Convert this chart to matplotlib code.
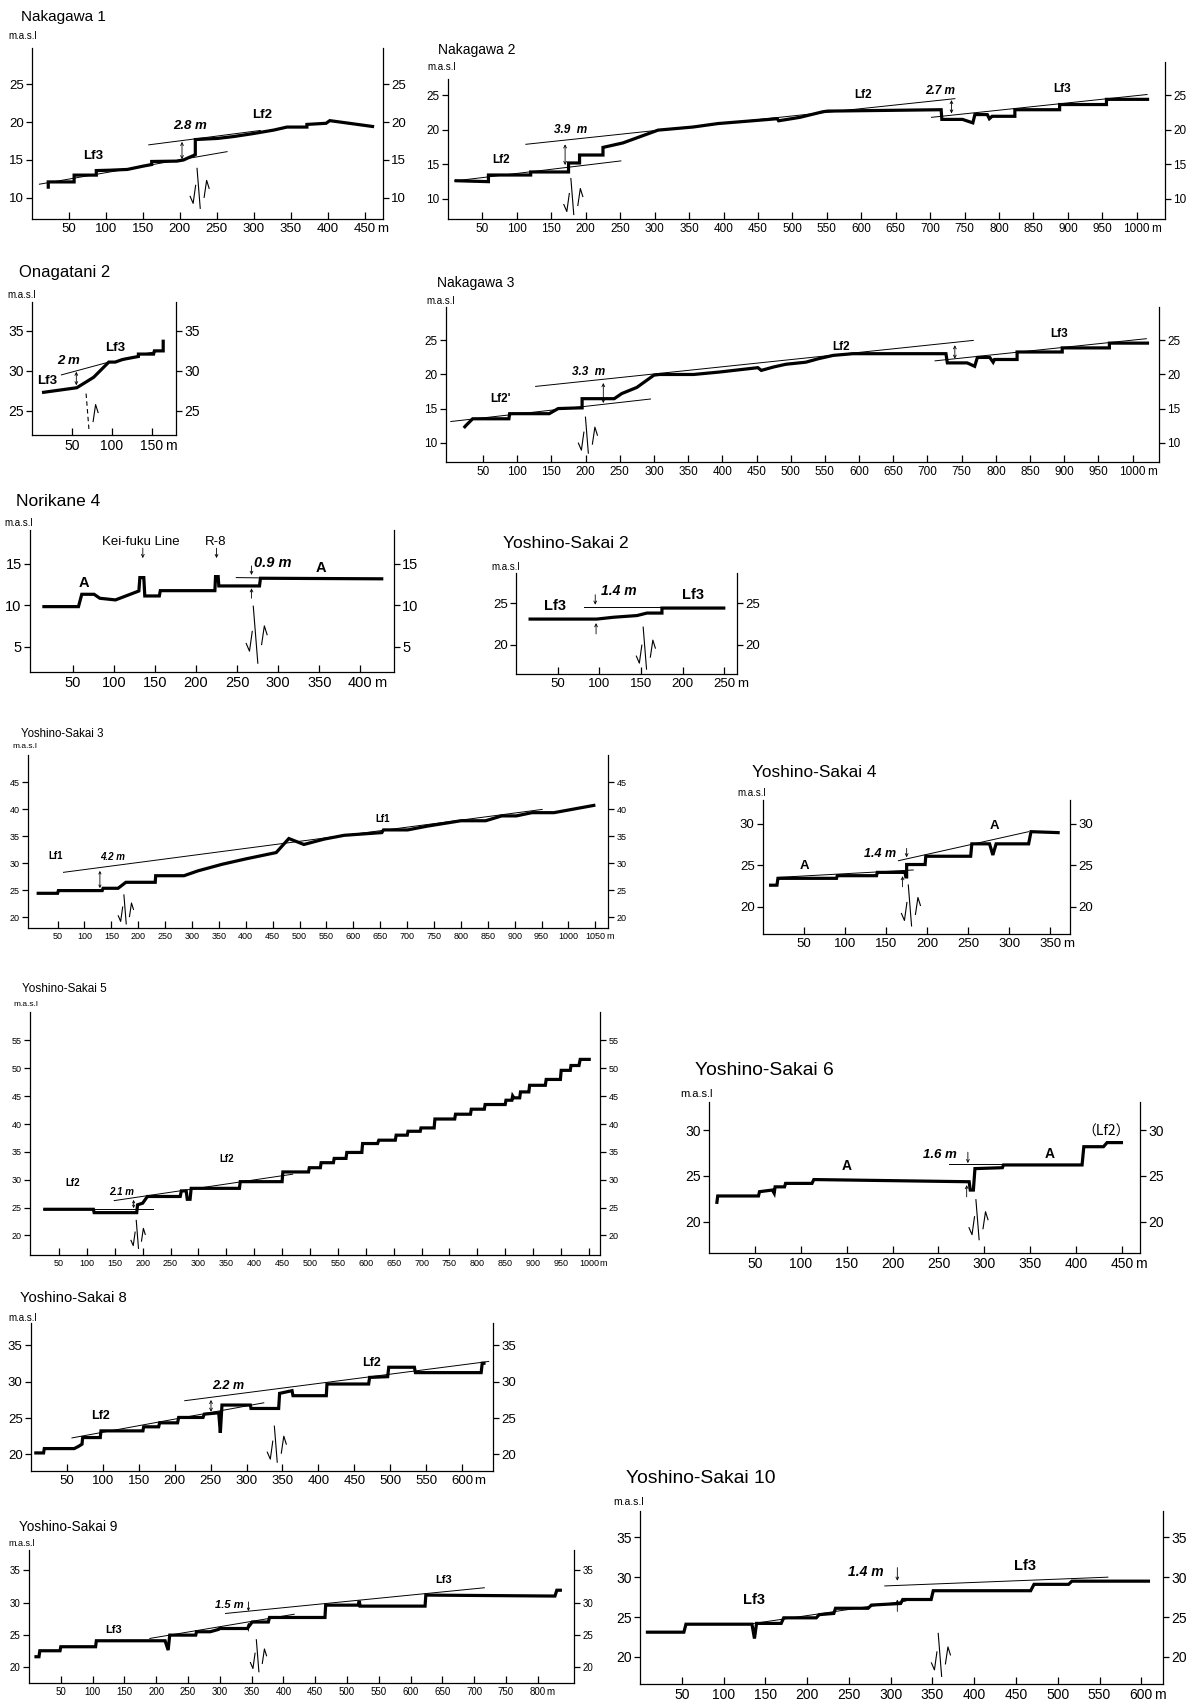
import matplotlib
matplotlib.use("Agg")
import matplotlib.pyplot as plt
from matplotlib.transforms import ScaledTranslation

plt.rcParams['font.family'] = ['Liberation Sans', 'DejaVu Sans']
plt.rcParams['axes.linewidth'] = 0.9

W, H = 1199, 1701

# ---------------- profile data (distance m, elevation m.a.s.l) ----------------
n1_x = [22, 22, 57, 57, 87, 87, 106, 129, 151, 162, 162, 196, 205, 214, 219, 221, 221, 251, 273, 300, 327, 345, 372, 372, 398, 403, 463]
n1_y = [11.2, 12.1, 12.1, 13.0, 13.0, 13.6, 13.65, 13.75, 14.2, 14.4, 14.8, 14.85, 15.0, 15.4, 15.6, 15.7, 17.7, 17.85, 18.1, 18.5, 18.95, 19.35, 19.35, 19.7, 19.85, 20.2, 19.4]
n1_lf2 = ([158, 309], [17.0, 18.9])
n1_lf3 = ([10, 264], [11.8, 16.1])

n2_x = [9.5, 58.7, 58.7, 120, 120, 175, 175, 191, 191, 225, 225, 254, 276, 305, 356, 392, 442, 478, 480, 511, 544, 551,
        716, 717, 747, 762, 765, 783, 786, 790, 823, 823, 888, 888, 956, 956, 1018]
n2_y = [12.64, 12.5, 13.46, 13.46, 13.9, 13.9, 15.2, 15.2, 16.35, 16.35, 17.45, 18.1, 18.9, 19.95, 20.4, 20.9, 21.3, 21.6, 21.3, 21.8, 22.6, 22.7,
        22.9, 21.5, 21.5, 21.0, 22.2, 22.2, 21.6, 21.95, 21.95, 22.9, 22.9, 23.65, 23.65, 24.4, 24.4]
n2_up = ([113, 736], [17.9, 24.5])
n2_low = ([9.5, 251], [12.6, 15.5])
n2_lf3 = ([702, 1015], [21.8, 25.1])

og_x = [12.5, 56, 77, 96, 104, 112.5, 117, 133, 133, 152, 153, 164, 164]
og_y = [27.3, 27.9, 29.2, 31.1, 31.1, 31.4, 31.5, 31.8, 32.1, 32.1, 32.5, 32.5, 33.9]
og_line = ([36.7, 96], [29.5, 31.1])
og_line2 = ([133, 155], [32.0, 32.4])

n3_x = [22, 25, 35, 88, 89, 147, 160, 191, 195, 195, 242, 253, 275, 300, 308, 358, 395, 452, 457, 475,
        493, 522, 540, 562, 591, 727, 729, 758, 769, 773, 791, 796, 798, 831, 831, 897, 897, 966, 966, 1024]
n3_y = [12.15, 12.5, 13.5, 13.5, 14.25, 14.25, 15.0, 15.1, 15.1, 16.45, 16.45, 17.2, 18.1, 19.9, 20.0, 20.0, 20.35, 21.0, 20.6, 21.1,
        21.5, 21.8, 22.3, 22.8, 23.05, 23.05, 21.7, 21.7, 21.2, 22.5, 22.5, 21.8, 22.2, 22.2, 23.3, 23.3, 23.9, 23.9, 24.6, 24.6]
n3_up = ([127, 767], [18.25, 25.0])
n3_low = ([3, 295], [13.1, 16.4])
n3_lf3 = ([711, 1020], [22.0, 25.25])

nk_x = [13, 57, 61, 76, 83, 102, 130.5, 131.7, 136.5, 137.7, 155.4, 156.6, 223, 223.8, 227, 227.8, 277.3, 278.5, 428]
nk_y = [9.84, 9.84, 11.33, 11.33, 10.85, 10.65, 11.73, 13.35, 13.35, 11.13, 11.13, 11.77, 11.77, 13.47, 13.47, 12.34, 12.34, 13.27, 13.2]
nk_line = ([249, 290], [13.35, 13.3])

y2_x = [15, 97, 117, 145, 157, 167, 175, 175, 251]
y2_y = [23.08, 23.08, 23.3, 23.5, 23.8, 23.8, 23.8, 24.4, 24.4]
y2_line = ([82, 175], [24.5, 24.5])

y3_x = [11, 50, 51.5, 133, 134.6, 162.5, 177, 231.6, 232.4, 285, 311, 355, 399, 456.6, 480, 508, 546, 583, 653, 656,
        701, 737.5, 800, 846, 876, 903, 932, 973, 1050]
y3_y = [24.44, 24.44, 24.94, 24.94, 25.37, 25.37, 26.48, 26.48, 27.7, 27.7, 28.6, 29.8, 30.8, 32.0, 34.6, 33.5, 34.5, 35.2, 35.7, 36.2,
        36.2, 36.9, 37.9, 37.9, 38.8, 38.8, 39.4, 39.4, 40.8]
y3_lf1 = ([61, 951], [28.33, 40.0])

y4_x = [7.3, 17, 18.2, 89.6, 90.5, 138.3, 139.2, 173, 174, 175, 175, 197.5, 198.3, 253, 254.4, 276, 280, 284, 323.6, 326.5, 361.5]
y4_y = [22.6, 22.6, 23.43, 23.43, 23.75, 23.75, 24.15, 24.15, 23.6, 23.6, 25.1, 25.1, 26.1, 26.1, 27.6, 27.6, 26.25, 27.6, 27.6, 29.07, 28.95]
y4_low = ([19.5, 183], [23.55, 24.44])
y4_up = ([165, 323.6], [25.56, 29.07])

y5_x = [21.7, 111.7, 113, 189.4, 190.8, 200, 208.5, 267.3, 269.4, 278, 280, 285, 287, 373.5, 375, 450, 451.4, 497.4, 498.8, 518.6,
        520, 542, 543.4, 564.6, 566, 593, 594.3, 621.2, 623.4, 653, 654.5, 674.4, 675.8, 697.7, 699, 722.6, 724, 759.5, 760.9, 787.8,
        789.2, 812.6, 814, 850, 851.4, 862, 863.4, 865.6, 876, 877.5, 892.4, 893.8, 922, 923.5, 949, 950.4, 966.7, 968, 982.3, 984.5, 1003.5]
y5_y = [24.7, 24.7, 24.1, 24.1, 25.5, 25.8, 27.0, 27.0, 28.0, 28.0, 26.5, 26.5, 28.46, 28.46, 29.66, 29.66, 31.4, 31.4, 32.16, 32.16,
        33.06, 33.06, 33.83, 33.83, 34.9, 34.9, 36.5, 36.5, 37.1, 37.1, 38.0, 38.0, 38.7, 38.7, 39.3, 39.3, 40.9, 40.9, 41.76, 41.76,
        42.66, 42.66, 43.5, 43.5, 44.27, 44.27, 45.04, 44.7, 44.7, 45.76, 45.76, 46.95, 46.95, 48.0, 48.0, 49.63, 49.63, 50.5, 50.5, 51.6, 51.6]
y5_low = ([21.7, 217.8], [24.8, 24.8])
y5_up = ([149, 469], [26.26, 31.0])

y6_x = [8.4, 9.5, 53.9, 55, 69, 71, 72, 82.3, 83.4, 112.2, 114.2, 283.4, 284.6, 288, 289.7, 319.6, 320.8, 406.4, 408.3, 429.7, 433.6, 451]
y6_y = [21.93, 22.8, 22.8, 23.27, 23.45, 23.1, 23.8, 23.8, 24.18, 24.18, 24.6, 24.36, 23.45, 23.45, 25.8, 25.9, 26.2, 26.2, 28.2, 28.2, 28.65, 28.65]
y6_line = ([261, 319.6], [26.3, 26.3])

y8_x = [4.5, 17.5, 18.5, 60.2, 66.2, 71, 71.9, 96.4, 97.4, 155.8, 156.8, 177.7, 179, 204, 205.5, 239.4, 241.2, 261.3, 263.5, 265.8,
        305.3, 306.2, 344.7, 346, 363.3, 364.6, 411, 411.9, 469.9, 471.3, 496.4, 497.9, 533.6, 535, 626.5, 628, 632.6]
y8_y = [20.19, 20.19, 20.79, 20.79, 21.1, 21.4, 22.31, 22.31, 23.23, 23.23, 23.79, 23.79, 24.34, 24.34, 25.08, 25.08, 25.54, 25.72, 22.96, 26.79,
        26.79, 26.32, 26.32, 28.4, 28.77, 28.08, 28.08, 29.69, 29.69, 30.6, 30.7, 32.0, 32.0, 31.26, 31.26, 32.55, 32.55]
y8_low = ([57, 324], [22.26, 27.1])
y8_up = ([214, 637], [27.39, 32.8])

y9_x = [8.5, 15.7, 17, 48.8, 50, 104.7, 105.9, 214, 218.8, 221.3, 262.2, 263.4, 285, 298, 299.4, 343.3, 351, 376.4, 378.2, 465.4,
        466.5, 517.6, 519.4, 520.6, 622.8, 624, 827, 830, 838]
y9_y = [21.65, 21.65, 22.57, 22.57, 23.19, 23.19, 24.11, 24.11, 22.67, 24.98, 24.98, 25.5, 25.5, 25.86, 26.0, 26.0, 27.0, 27.0, 27.7, 27.7,
        29.6, 29.6, 30.27, 29.45, 29.45, 31.15, 31.0, 31.9, 31.9]
y9_low = ([190, 417], [24.47, 28.2])
y9_up = ([309, 716], [28.32, 32.28])

y10_x = [7, 52.5, 55, 134, 137, 139.5, 169, 172, 211, 214.5, 232, 234, 273, 277, 312, 314.5, 348.5, 351, 467.6, 471.6, 513, 517, 610.5]
y10_y = [23.1, 23.1, 24.1, 24.1, 22.3, 24.2, 24.2, 24.9, 24.9, 25.3, 25.45, 26.1, 26.1, 26.5, 26.7, 27.2, 27.2, 28.3, 28.3, 29.1, 29.1, 29.5, 29.5]
y10_low = ([130, 318], [24.1, 27.0])
y10_up = ([293, 560], [28.9, 30.0])

fig = plt.figure(figsize=(W / 100, H / 100), dpi=100)
unit_labels = []


def panel(rect, xlim, ylim, xmax, yticks, fs, left_top=None):
    L, T, R, B = rect
    ax = fig.add_axes([L / W, 1 - B / H, (R - L) / W, (B - T) / H])
    ax.set_xlim(*xlim)
    ax.set_ylim(*ylim)
    ax.spines['top'].set_visible(False)
    if left_top is not None:
        ax.spines['left'].set_bounds(ylim[0], left_top)
    xt = list(range(50, xmax + 1, 50))
    ax.set_xticks(xt)
    ax.set_xticklabels([str(v) for v in xt])
    ax.tick_params(axis='x', direction='in', length=5, width=0.9, labelsize=fs, pad=3)
    ax.set_yticks(yticks)
    ax.tick_params(axis='y', direction='out', left=True, right=True, labelleft=True,
                   labelright=True, length=4, width=0.9, labelsize=fs, pad=2)
    unit_labels.append((ax, fs))
    return ax


def title(x, y, s, fs, masl_xy, masl_fs=7):
    fig.text(x / W, 1 - y / H, s, fontsize=fs, ha='left', va='center')
    fig.text(masl_xy[0] / W, 1 - masl_xy[1] / H, 'm.a.s.l', fontsize=masl_fs, ha='left', va='center')


def prof(ax, x, y):
    ax.plot(x, y, color='black', lw=2.3, solid_joinstyle='miter', solid_capstyle='butt')


def thin(ax, line):
    ax.plot(line[0], line[1], color='black', lw=0.7)


def fault(ax, x, y, h, s=1.0, dashed=False, down=True):
    tr = fig.dpi_scale_trans + ScaledTranslation(x, y, ax.transData)
    p = 0.01
    kw = dict(color='black', lw=0.8, transform=tr, clip_on=False)
    ax.plot([-0.08 * h * p, 0.08 * h * p], [h * p, -h * p], ls=(0, (4, 3)) if dashed else '-', **kw)
    if down:
        ax.plot([-3 * s * p, -5.5 * s * p, -8.5 * s * p], [3 * s * p, -15 * s * p, -8 * s * p], **kw)
    ax.plot([5.5 * s * p, 8 * s * p, 10.5 * s * p], [-9 * s * p, 8 * s * p, 0], **kw)


def arrow(ax, x, y1, y2, style='->', ms=5):
    ax.annotate('', xy=(x, y2), xytext=(x, y1),
                arrowprops=dict(arrowstyle=style, color='black', lw=0.6,
                                shrinkA=0, shrinkB=0, mutation_scale=ms))


def label(ax, x, y, s, fs, style='b', **kw):
    d = dict(fontsize=fs, ha='center', va='center')
    if 'b' in style:
        d['fontweight'] = 'bold'
    if 'i' in style:
        d['fontstyle'] = 'italic'
    d.update(kw)
    ax.text(x, y, s, **d)


# Nakagawa 1
ax = panel((32, 48, 383, 219), (0, 475), (7.2, 29.8), 450, [10, 15, 20, 25], 9.5)
title(21, 17, 'Nakagawa 1', 11, (8, 36))
prof(ax, n1_x, n1_y)
thin(ax, n1_lf2); thin(ax, n1_lf3)
arrow(ax, 203, 17.4, 15.1, '<->')
label(ax, 214, 19.5, '2.8 m', 9.5, 'bi')
label(ax, 311, 20.9, 'Lf2', 9.5)
label(ax, 83, 15.5, 'Lf3', 9.5)
fault(ax, 225.5, 11.25, 20)

# Nakagawa 2
ax = panel((448, 62, 1165, 219), (0, 1041), (7.1, 29.8), 1000, [10, 15, 20, 25], 8.5, left_top=27.4)
title(438, 50, 'Nakagawa 2', 10, (427, 67))
prof(ax, n2_x, n2_y)
thin(ax, n2_up); thin(ax, n2_low); thin(ax, n2_lf3)
arrow(ax, 170, 17.9, 14.9, '<->')
arrow(ax, 731, 24.3, 22.35, '<->')
label(ax, 178, 20.0, '3.9  m', 8.5, 'bi')
label(ax, 714, 25.6, '2.7 m', 8.5, 'bi')
label(ax, 77, 15.6, 'Lf2', 8.5)
label(ax, 602, 25.0, 'Lf2', 8.5)
label(ax, 891, 25.9, 'Lf3', 8.5)
fault(ax, 180.5, 10.35, 18)

# Onagatani 2
ax = panel((32, 302, 176, 435), (0, 180), (22, 38.6), 150, [25, 30, 35], 10)
title(19, 272, 'Onagatani 2', 12, (7, 295))
prof(ax, og_x, og_y)
thin(ax, og_line); thin(ax, og_line2)
arrow(ax, 55.4, 29.9, 28.2, '<->')
label(ax, 46, 31.25, '2 m', 9.5, 'bi')
label(ax, 104, 32.8, 'Lf3', 9.5)
label(ax, 19, 28.7, 'Lf3', 9.5)
fault(ax, 69.5, 24.8, 19, dashed=True, down=False)

# Nakagawa 3
ax = panel((446, 307, 1159, 462), (-4, 1038.5), (7.16, 29.9), 1000, [10, 15, 20, 25], 8.5)
title(437, 283, 'Nakagawa 3', 10, (426, 301))
prof(ax, n3_x, n3_y)
thin(ax, n3_up); thin(ax, n3_low); thin(ax, n3_lf3)
arrow(ax, 226, 18.75, 15.8, '<->')
arrow(ax, 740, 24.3, 22.3, '<->')
label(ax, 204, 20.4, '3.3  m', 8.5, 'bi')
label(ax, 573, 24.0, 'Lf2', 8.5)
label(ax, 893, 26.0, 'Lf3', 8.5)
label(ax, 75, 16.45, "Lf2'", 8.5)
fault(ax, 202, 11.1, 18)

# Norikane 4
ax = panel((30, 530, 394, 672), (-2, 441), (1.94, 19.1), 400, [5, 10, 15], 10.5)
title(16, 501, 'Norikane 4', 12.5, (4, 523))
prof(ax, nk_x, nk_y)
thin(ax, nk_line)
arrow(ax, 267.6, 14.76, 13.67)
arrow(ax, 267.6, 10.85, 12.06)
arrow(ax, 135.3, 16.9, 15.7)
arrow(ax, 225, 16.9, 15.7)
label(ax, 293.6, 15.08, '0.9 m', 10.5, 'bi')
label(ax, 64, 12.66, 'A', 10.5)
label(ax, 351.7, 14.5, 'A', 10.5)
label(ax, 132.5, 17.7, 'Kei-fuku Line', 9.5, '')
label(ax, 224.4, 17.7, 'R-8', 9.5, '')
fault(ax, 272.5, 6.45, 28.5, s=1.1)

# Yoshino-Sakai 2
ax = panel((516, 573, 737, 674), (0, 265), (16.5, 28.6), 250, [20, 25], 9.5)
title(503, 543, 'Yoshino-Sakai 2', 12.5, (491, 567))
prof(ax, y2_x, y2_y)
thin(ax, y2_line)
arrow(ax, 95, 26.0, 24.8)
arrow(ax, 96, 21.3, 22.6)
label(ax, 123, 26.4, '1.4 m', 10, 'bi')
label(ax, 47, 24.6, 'Lf3', 10.5)
label(ax, 212, 26.0, 'Lf3', 10.5)
fault(ax, 154.5, 19.6, 21)

# Yoshino-Sakai 3
ax = panel((28, 755, 608, 928), (-5, 1073.5), (18.0, 50.1), 1050, [20, 25, 30, 35, 40, 45], 6.5)
title(21, 734, 'Yoshino-Sakai 3', 8.3, (12, 746), 6)
prof(ax, y3_x, y3_y)
thin(ax, y3_lf1)
arrow(ax, 128.7, 28.6, 25.4, '<->', 4)
label(ax, 153, 31.2, '4.2 m', 7, 'bi')
label(ax, 46, 31.4, 'Lf1', 7)
label(ax, 655, 38.2, 'Lf1', 7)
fault(ax, 175.5, 21.45, 14.5, s=0.8)

# Yoshino-Sakai 4
ax = panel((763, 800, 1070, 934), (0, 374), (16.7, 32.9), 350, [20, 25, 30], 9.5)
title(752, 772, 'Yoshino-Sakai 4', 12.4, (737, 793))
prof(ax, y4_x, y4_y)
thin(ax, y4_low); thin(ax, y4_up)
arrow(ax, 175, 27.05, 25.97)
arrow(ax, 170, 22.4, 23.7)
label(ax, 142.5, 26.4, '1.4 m', 9, 'bi')
label(ax, 51, 24.96, 'A', 9.5)
label(ax, 281.6, 29.76, 'A', 9.5)
fault(ax, 179, 20.15, 20.5)

# Yoshino-Sakai 5
ax = panel((30, 1012, 600, 1255), (-2, 1020), (16.5, 60.1), 1000, [20, 25, 30, 35, 40, 45, 50, 55], 6.5)
title(22, 989, 'Yoshino-Sakai 5', 8.5, (13, 1004), 6)
prof(ax, y5_x, y5_y)
thin(ax, y5_low); thin(ax, y5_up)
arrow(ax, 183.8, 26.4, 24.9, '<->', 4)
label(ax, 163, 27.87, '2.1 m', 7, 'bi')
label(ax, 75, 29.5, 'Lf2', 7)
label(ax, 351, 33.65, 'Lf2', 7)
fault(ax, 190.5, 20.2, 14, s=0.75)

# Yoshino-Sakai 6
ax = panel((709, 1102, 1140, 1253), (0, 469.5), (16.55, 33.1), 450, [20, 25, 30], 10)
title(695, 1070, 'Yoshino-Sakai 6', 13.9, (680, 1094), 8)
prof(ax, y6_x, y6_y)
thin(ax, y6_line)
arrow(ax, 282, 27.6, 26.4)
arrow(ax, 280.7, 22.7, 24.0)
label(ax, 252, 27.3, '1.6 m', 9.5, 'bi')
label(ax, 150.4, 26.07, 'A', 10)
label(ax, 371.4, 27.4, 'A', 10)
label(ax, 432.5, 29.8, '（Lf2）', 10, '', family=['Noto Sans CJK JP', 'DejaVu Sans'])
fault(ax, 292.5, 20.2, 20)

# Yoshino-Sakai 8
ax = panel((31, 1323, 493, 1471), (0, 643), (17.7, 38.1), 600, [20, 25, 30, 35], 9.5)
title(20, 1298, 'Yoshino-Sakai 8', 10.7, (8, 1318))
prof(ax, y8_x, y8_y)
thin(ax, y8_low); thin(ax, y8_up)
arrow(ax, 250.5, 27.5, 25.86, '<->')
label(ax, 275, 29.4, '2.2 m', 9, 'bi')
label(ax, 97.4, 25.26, 'Lf2', 9)
label(ax, 473.4, 32.65, 'Lf2', 9)
fault(ax, 340.7, 21.4, 18)

# Yoshino-Sakai 9
ax = panel((29, 1550, 574, 1683), (0, 857), (17.6, 38.1), 800, [20, 25, 30, 35], 7)
title(19, 1527, 'Yoshino-Sakai 9', 9.8, (8, 1543), 6.5)
prof(ax, y9_x, y9_y)
thin(ax, y9_low); thin(ax, y9_up)
arrow(ax, 345, 30.1, 28.68, '->', 4)
arrow(ax, 345, 25.6, 26.9, '->', 4)
label(ax, 315, 29.6, '1.5 m', 8, 'bi')
label(ax, 133, 25.75, 'Lf3', 8)
label(ax, 651.6, 33.46, 'Lf3', 8)
fault(ax, 359.5, 21.8, 16, s=0.85)

# Yoshino-Sakai 10
ax = panel((640, 1511, 1163, 1684), (0, 626), (16.6, 38.3), 600, [20, 25, 30, 35], 10)
title(626, 1478, 'Yoshino-Sakai 10', 13.9, (613, 1502), 7.5)
prof(ax, y10_x, y10_y)
thin(ax, y10_low); thin(ax, y10_up)
arrow(ax, 308, 31.2, 29.55)
arrow(ax, 308, 25.7, 27.2)
label(ax, 270, 30.6, '1.4 m', 10, 'bi')
label(ax, 137, 27.1, 'Lf3', 10.5)
label(ax, 461, 31.45, 'Lf3', 10.5)
fault(ax, 359, 20.25, 21.5)

# unit "m" right after the last distance label of each panel
fig.canvas.draw()
for ax, fs in unit_labels:
    bb = ax.get_xticklabels()[-1].get_window_extent()
    fig.text((bb.x1 + 0.1 * fs * 100 / 72) / W, bb.y0 / H, 'm', fontsize=fs, ha='left', va='bottom')

fig.savefig('out.png', dpi=100)
